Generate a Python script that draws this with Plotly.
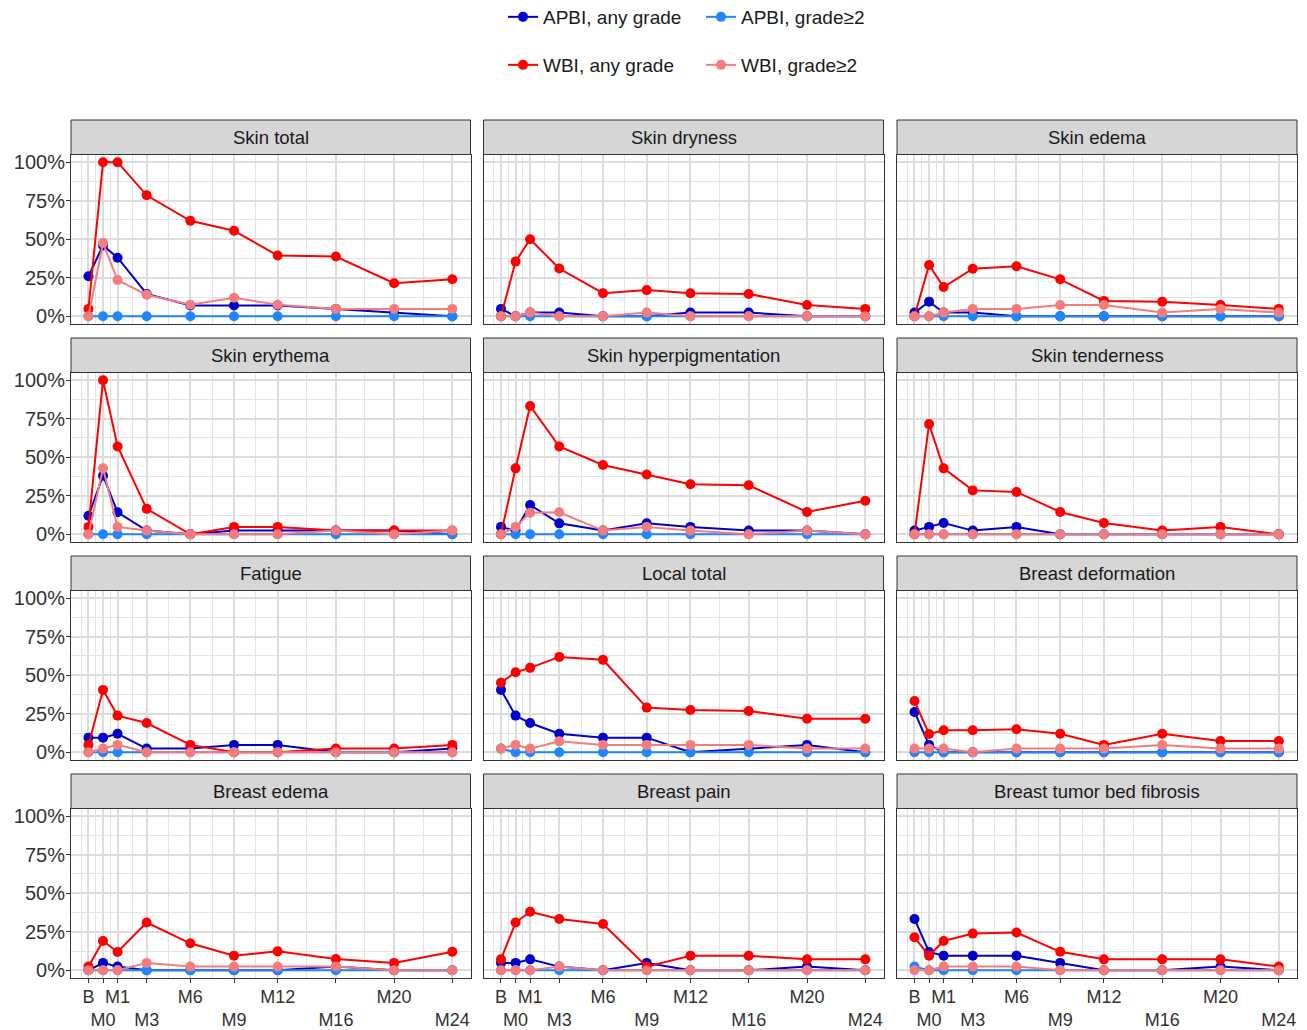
import plotly.graph_objects as go

# ---------------- data ----------------
months = [-1, 0, 1, 3, 6, 9, 12, 16, 20, 24]
tick_labels = ["B", "M0", "M1", "M3", "M6", "M9", "M12", "M16", "M20", "M24"]
panels = ["Skin total", "Skin dryness", "Skin edema",
          "Skin erythema", "Skin hyperpigmentation", "Skin tenderness",
          "Fatigue", "Local total", "Breast deformation",
          "Breast edema", "Breast pain", "Breast tumor bed fibrosis"]
series_names = ["APBI, any grade", "APBI, grade≥2", "WBI, any grade", "WBI, grade≥2"]
series_colors = ["#0000CD", "#1E86FF", "#FF0000", "#F47C7C"]

y_ticks = [0, 25, 50, 75, 100]
y_tick_labels = ["0%", "25%", "50%", "75%", "100%"]

apbi_any = {
    "Skin total": [26, 46, 38, 14.5, 7, 7, 7, 4.8, 2.4, 0],
    "Skin dryness": [4.8, 0, 2.4, 2.4, 0, 0, 2.4, 2.4, 0, 0],
    "Skin edema": [2.4, 9.5, 2.4, 2.4, 0, 0, 0, 0, 0, 0],
    "Skin erythema": [12, 38, 14.3, 2.4, 0, 2.4, 2.4, 2.4, 2.4, 0],
    "Skin hyperpigmentation": [4.8, 2.4, 19, 7.1, 2.4, 7.1, 4.8, 2.4, 2.4, 0],
    "Skin tenderness": [2.4, 4.8, 7.3, 2.4, 4.8, 0, 0, 0, 0, 0],
    "Fatigue": [9.5, 9.5, 12, 2.4, 2.4, 4.8, 4.8, 0, 0, 2.4],
    "Local total": [40.5, 23.8, 19, 12, 9.5, 9.5, 0, 2.4, 4.8, 0],
    "Breast deformation": [26.2, 4.8, 0, 0, 0, 0, 0, 0, 0, 0],
    "Breast edema": [0, 4.8, 2.4, 0, 0, 0, 0, 2.4, 0, 0],
    "Breast pain": [4.8, 4.8, 7.1, 2.4, 0, 4.8, 0, 0, 2.4, 0],
    "Breast tumor bed fibrosis": [33.3, 11.9, 9.5, 9.5, 9.5, 4.8, 0, 0, 2.4, 0],
}
apbi_g2 = {
    "Skin total": [0, 0, 0, 0, 0, 0, 0, 0, 0, 0],
    "Skin dryness": [0, 0, 0, 0, 0, 0, 0, 0, 0, 0],
    "Skin edema": [0, 0, 0, 0, 0, 0, 0, 0, 0, 0],
    "Skin erythema": [0, 0, 0, 0, 0, 0, 0, 0, 0, 0],
    "Skin hyperpigmentation": [0, 0, 0, 0, 0, 0, 0, 0, 0, 0],
    "Skin tenderness": [0, 0, 0, 0, 0, 0, 0, 0, 0, 0],
    "Fatigue": [0, 0, 0, 0, 0, 0, 0, 0, 0, 0],
    "Local total": [2.4, 0, 0, 0, 0, 0, 0, 0, 0, 0],
    "Breast deformation": [0, 0, 0, 0, 0, 0, 0, 0, 0, 0],
    "Breast edema": [0, 0, 0, 0, 0, 0, 0, 0, 0, 0],
    "Breast pain": [0, 0, 0, 0, 0, 0, 0, 0, 0, 0],
    "Breast tumor bed fibrosis": [2.4, 0, 0, 0, 0, 0, 0, 0, 0, 0],
}
wbi_any = {
    "Skin total": [4.8, 100, 100, 78.5, 62, 55.5, 39.5, 38.8, 21.5, 24],
    "Skin dryness": [0, 35.5, 50, 31, 15, 17, 15, 14.5, 7.3, 4.8],
    "Skin edema": [0, 33.3, 19, 30.9, 32.5, 24, 10, 9.5, 7.3, 4.8],
    "Skin erythema": [4.8, 100, 57, 16.5, 0, 4.8, 4.8, 2.4, 2.4, 2.4],
    "Skin hyperpigmentation": [0, 42.8, 83.3, 57, 45, 38.8, 32.5, 31.8, 14.5, 21.8],
    "Skin tenderness": [0, 71.5, 42.8, 28.5, 27.5, 14.5, 7.3, 2.4, 4.8, 0],
    "Fatigue": [4.8, 40.5, 23.8, 19, 4.8, 0, 0, 2.4, 2.4, 4.8],
    "Local total": [45.2, 52, 54.8, 61.9, 60, 29, 27.5, 26.8, 21.8, 21.8],
    "Breast deformation": [33.3, 11.9, 14.3, 14.3, 15, 12, 4.8, 12, 7.3, 7.3],
    "Breast edema": [2.4, 19, 11.9, 31, 17.5, 9.5, 12.3, 7.3, 4.8, 12],
    "Breast pain": [7.1, 31, 38, 33.3, 30, 2.4, 9.5, 9.5, 7.1, 7.1],
    "Breast tumor bed fibrosis": [21.4, 9.5, 19, 23.8, 24.5, 12, 7.1, 7.1, 7.1, 2.4],
}
wbi_g2 = {
    "Skin total": [0, 47.5, 23.5, 14, 7.5, 12, 7.5, 4.8, 4.8, 4.8],
    "Skin dryness": [0, 0, 2.4, 0, 0, 2.4, 0, 0, 0, 0],
    "Skin edema": [0, 0, 2.4, 4.8, 4.8, 7.3, 7.3, 2.4, 4.8, 2.4],
    "Skin erythema": [0, 42.8, 4.8, 2.4, 0, 0, 0, 2.4, 0, 2.4],
    "Skin hyperpigmentation": [0, 4.8, 14, 14.3, 2.4, 4.8, 2.4, 0, 2.4, 0],
    "Skin tenderness": [0, 0, 0, 0, 0, 0, 0, 0, 0, 0],
    "Fatigue": [0, 2.4, 4.8, 0, 0, 0, 0, 0, 0, 0],
    "Local total": [2.4, 4.8, 2.4, 7.1, 4.8, 4.8, 4.8, 4.8, 2.4, 2.4],
    "Breast deformation": [2.4, 2.4, 2.4, 0, 2.4, 2.4, 2.4, 4.8, 2.4, 2.4],
    "Breast edema": [0, 0, 0, 4.8, 2.4, 2.4, 2.4, 2.4, 0, 0],
    "Breast pain": [0, 0, 0, 2.4, 0, 0, 0, 0, 0, 0],
    "Breast tumor bed fibrosis": [0, 0, 2.4, 2.4, 2.4, 0, 0, 0, 0, 0],
}
series_data = [apbi_any, apbi_g2, wbi_any, wbi_g2]

# ---------------- layout geometry (page pixels) ----------------
OFF = 8                      # browser body margin
W, H = 1307 - OFF, 1030 - OFF
col_px = [(71, 470.5), (483.5, 883.5), (897, 1297)]
row_panel_px = [(154.5, 324), (372.5, 542), (590.5, 760), (808.5, 978)]
row_strip_px = [(120, 154.5), (338, 372.5), (556, 590.5), (774, 808.5)]

FONT = "Liberation Sans, Arial, sans-serif"

def px_x(v):
    return (v - OFF) / W

def px_y(v):
    return 1 - (v - OFF) / H

# minor gridlines (midpoints between breaks, like ggplot)
ext = [months[0] - (months[1] - months[0])] + months + [months[-1] + (months[-1] - months[-2])]
x_minor = [(a + b) / 2 for a, b in zip(ext[:-1], ext[1:])]
y_minor = [12.5, 37.5, 62.5, 87.5]

x_ticktext = [t if i % 2 == 0 else "<br>" + t for i, t in enumerate(tick_labels)]

fig = go.Figure()
layout = {}
shapes = []
annotations = []

for p, name in enumerate(panels):
    r, c = divmod(p, 3)
    i = p + 1
    xa = "x" if i == 1 else f"x{i}"
    ya = "y" if i == 1 else f"y{i}"
    xkey = "xaxis" if i == 1 else f"xaxis{i}"
    ykey = "yaxis" if i == 1 else f"yaxis{i}"
    bottom = (r == 3)
    left = (c == 0)
    layout[xkey] = dict(
        domain=[px_x(col_px[c][0]), px_x(col_px[c][1])],
        anchor=ya, range=[-2.2, 25.25],
        tickmode="array", tickvals=months,
        ticktext=x_ticktext if bottom else [""] * len(months),
        showticklabels=bottom, tickangle=0, ticklabelstandoff=-2,
        ticks="outside" if bottom else "", ticklen=4, tickwidth=1, tickcolor="#333333",
        tickfont=dict(family=FONT, size=18, color="#333333"),
        showgrid=True, gridcolor="#DCDCDC", gridwidth=2,
        minor=dict(tickmode="array", tickvals=x_minor, showgrid=True,
                   gridcolor="#E4E4E4", gridwidth=1.2, ticks=""),
        showline=True, mirror=True, linecolor="#333333", linewidth=1,
        zeroline=False, automargin=False, fixedrange=True,
    )
    layout[ykey] = dict(
        domain=[px_y(row_panel_px[r][1]), px_y(row_panel_px[r][0])],
        anchor=xa, range=[-5, 105],
        tickmode="array", tickvals=y_ticks, ticktext=y_tick_labels,
        showticklabels=left, ticklabelstandoff=-3,
        ticks="outside" if left else "", ticklen=4, tickwidth=1, tickcolor="#333333",
        tickfont=dict(family=FONT, size=20, color="#333333"),
        showgrid=True, gridcolor="#DCDCDC", gridwidth=2,
        minor=dict(tickmode="array", tickvals=y_minor, showgrid=True,
                   gridcolor="#E4E4E4", gridwidth=1.2, ticks=""),
        showline=True, mirror=True, linecolor="#333333", linewidth=1,
        zeroline=False, automargin=False, fixedrange=True,
    )
    # strip
    shapes.append(dict(type="rect", xref="paper", yref="paper",
                       x0=px_x(col_px[c][0]), x1=px_x(col_px[c][1]),
                       y0=px_y(row_strip_px[r][1]), y1=px_y(row_strip_px[r][0]),
                       fillcolor="#D6D6D6", line=dict(color="#333333", width=1), layer="above"))
    annotations.append(dict(xref="paper", yref="paper",
                            x=px_x((col_px[c][0] + col_px[c][1]) / 2),
                            y=px_y((row_strip_px[r][0] + row_strip_px[r][1]) / 2),
                            text=name, showarrow=False, xanchor="center", yanchor="middle",
                            font=dict(family=FONT, size=18.5, color="#1A1A1A")))
    for s, (sname, col, data) in enumerate(zip(series_names, series_colors, series_data)):
        fig.add_trace(go.Scatter(
            x=months, y=data[name], xaxis=xa, yaxis=ya,
            mode="lines+markers", name=sname,
            line=dict(color=col, width=2),
            marker=dict(color=col, size=10),
            showlegend=(p == 0),
            legend="legend" if s < 2 else "legend2",
            hoverinfo="skip",
        ))

legend_common = dict(orientation="h", xanchor="left", yanchor="middle",
                     x=px_x(503), font=dict(family=FONT, size=19, color="#1A1A1A"),
                     bgcolor="rgba(0,0,0,0)", entrywidth=153, entrywidthmode="pixels",
                     itemclick=False, itemdoubleclick=False)

fig.update_layout(
    **layout,
    width=W, height=H,
    margin=dict(l=0, r=0, t=0, b=0, autoexpand=False),
    template="none",
    paper_bgcolor="white", plot_bgcolor="white",
    font=dict(family=FONT, size=18, color="#1A1A1A"),
    shapes=shapes, annotations=annotations,
    legend=dict(y=px_y(17), **legend_common),
    legend2=dict(y=px_y(65), **legend_common),
    showlegend=True,
)

fig.write_html("out.html")
